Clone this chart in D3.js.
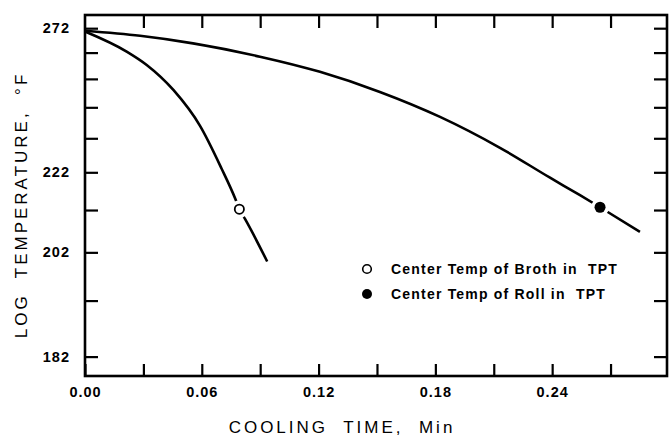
<!DOCTYPE html>
<html>
<head>
<meta charset="utf-8">
<script src="https://cdn.jsdelivr.net/npm/d3@7"></script>
<style>
  body { margin: 0; background: #fff; }
  svg { display: block; font-family: "Liberation Sans", Arial, sans-serif; }
  .axis path { display: none; }
  .axis line { stroke: #000; stroke-width: 2.2; }
  .axis text { fill: #000; font-size: 14.5px; font-weight: bold; letter-spacing: 1px; }
  .frame { fill: none; stroke: #000; stroke-width: 2.6; }
  .curve { fill: none; stroke: #000; stroke-width: 2.6; }
  .title { font-size: 17px; fill: #000; letter-spacing: 3px; }
  .legend text { font-size: 14px; font-weight: bold; fill: #000; letter-spacing: 1.2px; }
</style>
</head>
<body>
<script>
// cooling curves, log temperature vs time

// ---- data ----
var brothTime = [0, 0.0214, 0.0317, 0.0454, 0.0591, 0.0702, 0.0771, 0.0793, 0.0822, 0.0936];
var brothTemp = [270.6, 262.4, 257.2, 248.0, 235.9, 223.0, 215.0, 212.2, 209.8, 200.0];

var rollTime = [0, 0.0283, 0.0555, 0.0899, 0.1207, 0.1515, 0.1824, 0.2132, 0.2389, 0.2543, 0.2646, 0.2851];
var rollTemp = [270.9, 268.8, 265.7, 260.4, 254.6, 247.3, 238.8, 229.1, 220.5, 215.8, 212.7, 206.7];

// measured points (markers)
var markerTime = [0.0793, 0.2646];
var markerTemp = [212.2, 212.7];
var markerFilled = [false, true];

var legendLabels = ["Center Temp of Broth in  TPT", "Center Temp of Roll in  TPT"];

var timeTicks = [0.03, 0.06, 0.09, 0.12, 0.15, 0.18, 0.21, 0.24, 0.27];
var timeLabels = [0, 0.06, 0.12, 0.18, 0.24];
var tempTicks = [272, 262, 252, 242, 232, 222, 212, 202, 192, 182];
var tempLabels = [272, 222, 202, 182];

// the temperature axis is logarithmic in (T - offset)
var tempOffset = 125;

window.onload = function(){

    var w = 670,
        h = 438;

    var left = 85, right = 667, top = 15, bottom = 376;

    var svg = d3.select("body")
        .append("svg")
        .attr("width", w)
        .attr("height", h);

    // ---- scales ----
    var x = d3.scaleLinear()
        .domain([0, 0.299])
        .range([left, right]);

    var y = d3.scaleLog()
        .domain([178.9 - tempOffset, 277.7 - tempOffset])
        .range([bottom, top]);

    function yT(t){ return y(t - tempOffset); }

    // ---- axes (ticks point inward) ----
    var fmtTime = d3.format(".2f");

    svg.append("g")
        .attr("class", "axis")
        .attr("transform", "translate(0," + bottom + ")")
        .call(d3.axisBottom(x)
            .tickValues(timeTicks.concat([0]))
            .tickSize(-12)
            .tickPadding(11)
            .tickFormat(function(d){
                return timeLabels.some(function(v){ return Math.abs(v - d) < 1e-9; }) ? fmtTime(d) : "";
            }));

    svg.append("g")
        .attr("class", "axis")
        .attr("transform", "translate(0," + top + ")")
        .call(d3.axisTop(x)
            .tickValues(timeTicks)
            .tickSize(-13)
            .tickFormat(""));

    svg.append("g")
        .attr("class", "axis")
        .attr("transform", "translate(" + left + ",0)")
        .call(d3.axisLeft(y)
            .tickValues(tempTicks.map(function(t){ return t - tempOffset; }))
            .tickSize(-13)
            .tickPadding(15)
            .tickFormat(function(d){
                var t = Math.round(d + tempOffset);
                return tempLabels.indexOf(t) >= 0 ? t : "";
            }));

    svg.append("g")
        .attr("class", "axis")
        .attr("transform", "translate(" + right + ",0)")
        .call(d3.axisRight(y)
            .tickValues(tempTicks.map(function(t){ return t - tempOffset; }))
            .tickSize(-13)
            .tickFormat(""));

    // ---- frame ----
    svg.append("rect")
        .attr("class", "frame")
        .attr("x", left)
        .attr("y", top)
        .attr("width", right - left)
        .attr("height", bottom - top);

    // ---- curves ----
    var line = d3.line()
        .x(function(d){ return x(d[0]); })
        .y(function(d){ return yT(d[1]); })
        .curve(d3.curveMonotoneX);

    var series = [
        d3.zip(brothTime, brothTemp),
        d3.zip(rollTime, rollTemp)
    ];

    svg.selectAll(".curve")
        .data(series)
        .enter()
        .append("path")
        .attr("class", "curve")
        .attr("d", line);

    // ---- markers with a white gap round them ----
    var markers = d3.range(markerTime.length).map(function(i){
        return { t: markerTime[i], temp: markerTemp[i], filled: markerFilled[i] };
    });

    svg.selectAll(".gap")
        .data(markers)
        .enter()
        .append("circle")
        .attr("class", "gap")
        .attr("cx", function(d){ return x(d.t); })
        .attr("cy", function(d){ return yT(d.temp); })
        .attr("r", 9)
        .style("fill", "#fff");

    svg.selectAll(".marker")
        .data(markers)
        .enter()
        .append("circle")
        .attr("class", "marker")
        .attr("cx", function(d){ return x(d.t); })
        .attr("cy", function(d){ return yT(d.temp); })
        .attr("r", function(d){ return d.filled ? 5.5 : 4.6; })
        .style("fill", function(d){ return d.filled ? "#000" : "#fff"; })
        .style("stroke", "#000")
        .style("stroke-width", function(d){ return d.filled ? 0 : 1.8; });

    // ---- legend ----
    var legend = svg.append("g")
        .attr("class", "legend")
        .attr("transform", "translate(367,269)");

    var rows = legend.selectAll("g")
        .data(legendLabels)
        .enter()
        .append("g")
        .attr("transform", function(d, i){ return "translate(0," + (i * 25) + ")"; });

    rows.append("circle")
        .attr("r", function(d, i){ return markerFilled[i] ? 5 : 4.3; })
        .style("fill", function(d, i){ return markerFilled[i] ? "#000" : "#fff"; })
        .style("stroke", "#000")
        .style("stroke-width", function(d, i){ return markerFilled[i] ? 0 : 1.6; });

    rows.append("text")
        .attr("x", 24)
        .attr("dy", "0.36em")
        .style("white-space", "pre")
        .text(function(d){ return d; });

    // ---- axis titles ----
    svg.append("text")
        .attr("class", "title")
        .attr("x", 342)
        .attr("y", 433)
        .attr("text-anchor", "middle")
        .style("white-space", "pre")
        .text("COOLING  TIME,  Min");

    svg.append("text")
        .attr("class", "title")
        .attr("transform", "translate(27,205) rotate(-90)")
        .attr("text-anchor", "middle")
        .style("white-space", "pre")
        .text("LOG  TEMPERATURE,  °F");
};
</script>
</body>
</html>
